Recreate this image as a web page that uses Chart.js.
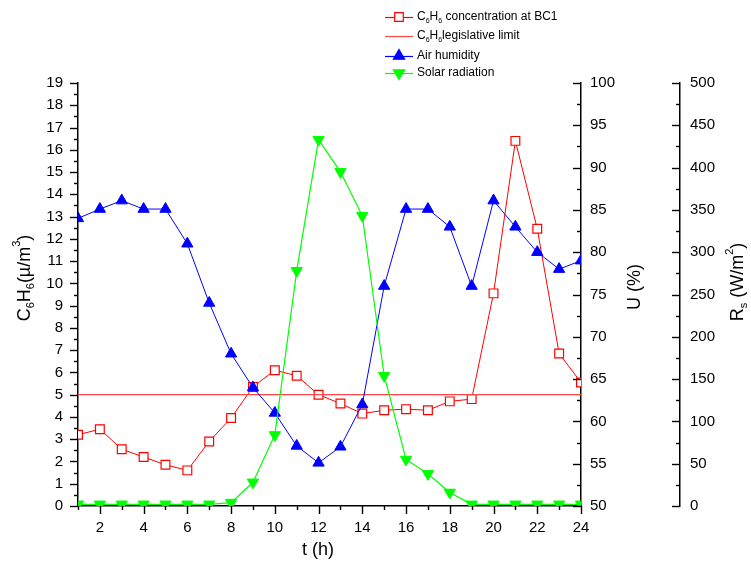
<!DOCTYPE html>
<html>
<head>
<meta charset="utf-8">
<script src="https://cdn.jsdelivr.net/npm/chart.js@4.4.1/dist/chart.umd.min.js"></script>
<style>
html,body{margin:0;padding:0;background:#fff;overflow:hidden}
canvas{display:block}
</style>
</head>
<body>
<canvas id="c" width="751" height="561"></canvas>
<script>
// ---- data ----
const hours = [1,2,3,4,5,6,7,8,9,10,11,12,13,14,15,16,17,18,19,20,21,22,23,24];
const benzene = [3.2,3.45,2.55,2.2,1.85,1.6,2.9,3.95,5.35,6.1,5.85,5.0,4.6,4.15,4.3,4.35,4.3,4.7,4.8,9.55,16.4,12.45,6.85,5.55];
const limitHours = [1,24];
const limitValues = [5,5];
const humidity = [84,85.1,86.1,85.1,85.1,81,74,68,64,61,57.1,55.1,57,62,76,85.1,85.1,83,76,86.1,83,80,78,79];
const solar = [2,2,2,2,2,2,2,4,28,84,278,433,395,343,154,55,38,16,2,2,2,2,2,2];
const xTickLabels = [2,4,6,8,10,12,14,16,18,20,22,24];
const yRange = [0,19,1];      // min, max, step (C6H6)
const uRange = [50,100,5];    // air humidity %
const rRange = [0,500,50];    // solar radiation W/m2

const FONT = '"Liberation Sans", Arial, sans-serif';
const RED = '#ff0000', LIMIT = 'rgb(255,70,70)', BLUE = '#0000ff', GREEN = '#00ff00';

const pts = (xs, ys) => xs.map((x, i) => ({x, y: ys[i]}));

// rich text with sub/superscripts: parts = [[text, mode]] mode 0 normal, 1 sub, 2 sup
function rich(ctx, parts, x, y, rot, size, align) {
  ctx.save();
  ctx.translate(x, y);
  ctx.rotate(rot);
  ctx.textBaseline = 'middle';
  ctx.textAlign = 'left';
  ctx.fillStyle = '#000';
  const fs = m => m ? Math.round(size * 0.62) : size;
  let total = 0;
  const ws = parts.map(([t, m]) => { ctx.font = fs(m) + 'px ' + FONT; const w = ctx.measureText(t).width; total += w; return w; });
  let cx = align === 'left' ? 0 : -total / 2;
  parts.forEach(([t, m], i) => {
    ctx.font = fs(m) + 'px ' + FONT;
    const dy = m === 1 ? size * 0.35 : (m === 2 ? -size * 0.45 : 0);
    ctx.fillText(t, cx, dy);
    cx += ws[i];
  });
  ctx.restore();
}

function marker(ctx, style, x, y, color, fill) {
  ctx.save();
  ctx.fillStyle = fill; ctx.strokeStyle = color; ctx.lineWidth = 1.2;
  ctx.beginPath();
  if (style === 'rect') {
    ctx.rect(x - 4.3, y - 4.3, 8.6, 8.6);
  } else {
    const r = 6.5, s = style === 'down' ? -1 : 1;
    ctx.moveTo(x, y - s * r);
    ctx.lineTo(x + r * 0.866, y + s * r * 0.5);
    ctx.lineTo(x - r * 0.866, y + s * r * 0.5);
    ctx.closePath();
  }
  ctx.fill(); ctx.stroke();
  ctx.restore();
}

const decorPlugin = {
  id: 'decor',
  afterDraw(chart) {
    const ctx = chart.ctx;
    const s = chart.scales;
    ctx.save();
    ctx.strokeStyle = '#000';
    ctx.lineWidth = 1.4;
    const isMajor = (v, step) => Math.abs(v / step - Math.round(v / step)) < 1e-6;
    const vTicks = (scale, range, xLine, dir) => {
      const [mn, mx, step] = range;
      for (let v = mn; v <= mx + 1e-9; v += step / 2) {
        const y = Math.round(scale.getPixelForValue(v)) + 0.5;
        const len = isMajor(v - mn, step) ? 8 : 4;
        ctx.beginPath(); ctx.moveTo(xLine, y); ctx.lineTo(xLine + dir * len, y); ctx.stroke();
      }
    };
    vTicks(s.y, yRange, s.y.right, -1);
    vTicks(s.hum, uRange, s.hum.left, -1);
    vTicks(s.rad, rRange, s.rad.left, -1);
    // x ticks (major at even hours)
    for (let h = hours[0]; h <= hours[hours.length - 1]; h++) {
      const x = Math.round(s.x.getPixelForValue(h)) + 0.5;
      const len = xTickLabels.includes(h) ? 8 : 4;
      ctx.beginPath(); ctx.moveTo(x, s.x.top); ctx.lineTo(x, s.x.top + len); ctx.stroke();
    }
    ctx.restore();

    // axis titles
    rich(ctx, [['C',0],['6',1],['H',0],['6',1],['(\u00b5/m',0],['3',2],[')',0]], 25, 278, -Math.PI/2, 18);
    rich(ctx, [['U (%)',0]], 635, 287, -Math.PI/2, 18);
    rich(ctx, [['R',0],['s',1],[' (W/m',0],['2',2],[')',0]], 738, 282, -Math.PI/2, 18);
    rich(ctx, [['t (h)',0]], 318, 550, 0, 18);

    // legend
    const rows = [
      {y: 17, color: RED, style: 'rect', fill: '#fff', text: [['C',0],['6',1],['H',0],['6',1],[' concentration at BC1',0]]},
      {y: 36, color: LIMIT, style: null, text: [['C',0],['6',1],['H',0],['6',1],['legislative limit',0]]},
      {y: 56, color: BLUE, style: 'up', fill: BLUE, text: [['Air humidity',0]]},
      {y: 73, color: GREEN, style: 'down', fill: GREEN, text: [['Solar radiation',0]]}
    ];
    rows.forEach(r => {
      ctx.save();
      ctx.strokeStyle = r.color; ctx.lineWidth = 1.2;
      ctx.beginPath(); ctx.moveTo(385, r.y + 0.5); ctx.lineTo(413, r.y + 0.5); ctx.stroke();
      ctx.restore();
      if (r.style) marker(ctx, r.style, 399, r.y, r.color, r.fill);
      rich(ctx, r.text, 417, r.y, 0, 12, 'left');
    });
  }
};

const tickFont = {family: FONT, size: 15};
const axisCommon = {
  grid: {drawOnChartArea: false, drawTicks: false},
  border: {color: '#000', width: 1.5}
};

new Chart(document.getElementById('c'), {
  type: 'line',
  data: {
    datasets: [
      {label: 'Solar radiation', data: pts(hours, solar), yAxisID: 'rad', borderColor: GREEN, borderWidth: 1.2,
       pointStyle: 'triangle', pointRotation: 180, pointRadius: 6.5, pointBackgroundColor: GREEN, pointBorderColor: GREEN, pointBorderWidth: 1, tension: 0},
      {label: 'Air humidity', data: pts(hours, humidity), yAxisID: 'hum', borderColor: BLUE, borderWidth: 1,
       pointStyle: 'triangle', pointRadius: 6.5, pointBackgroundColor: BLUE, pointBorderColor: BLUE, pointBorderWidth: 1, tension: 0},
      {label: 'C6H6 legislative limit', data: pts(limitHours, limitValues), yAxisID: 'y', borderColor: LIMIT, borderWidth: 1.3,
       pointRadius: 0, tension: 0},
      {label: 'C6H6 concentration at BC1', data: pts(hours, benzene), yAxisID: 'y', borderColor: RED, borderWidth: 1,
       pointStyle: 'rect', pointRadius: 6.2, pointBackgroundColor: '#fff', pointBorderColor: RED, pointBorderWidth: 1.2, tension: 0}
    ]
  },
  options: {
    responsive: false,
    animation: false,
    layout: {padding: {top: 83, left: 0, right: 0, bottom: 0}},
    plugins: {legend: {display: false}, tooltip: {enabled: false}},
    scales: {
      x: Object.assign({}, axisCommon, {
        type: 'linear', position: 'bottom', min: hours[0], max: hours[hours.length - 1],
        ticks: {stepSize: 1, autoSkip: false, maxRotation: 0, padding: 13, color: '#000', font: tickFont,
                callback: v => xTickLabels.includes(v) ? String(v) : ''},
        afterFit(sc) { sc.height = 55; }
      }),
      y: Object.assign({}, axisCommon, {
        type: 'linear', position: 'left', min: yRange[0], max: yRange[1],
        ticks: {stepSize: yRange[2], padding: 15, color: '#000', font: tickFont},
        afterFit(sc) { sc.width = 78; }
      }),
      hum: Object.assign({}, axisCommon, {
        type: 'linear', axis: 'y', position: 'right', weight: 0, min: uRange[0], max: uRange[1],
        ticks: {stepSize: uRange[2], padding: 9, color: '#000', font: tickFont},
        afterFit(sc) { sc.width = 99; }
      }),
      rad: Object.assign({}, axisCommon, {
        type: 'linear', axis: 'y', position: 'right', weight: 1, min: rRange[0], max: rRange[1],
        ticks: {stepSize: rRange[2], padding: 10, color: '#000', font: tickFont},
        afterFit(sc) { sc.width = 71; }
      })
    }
  },
  plugins: [decorPlugin]
});
</script>
</body>
</html>
